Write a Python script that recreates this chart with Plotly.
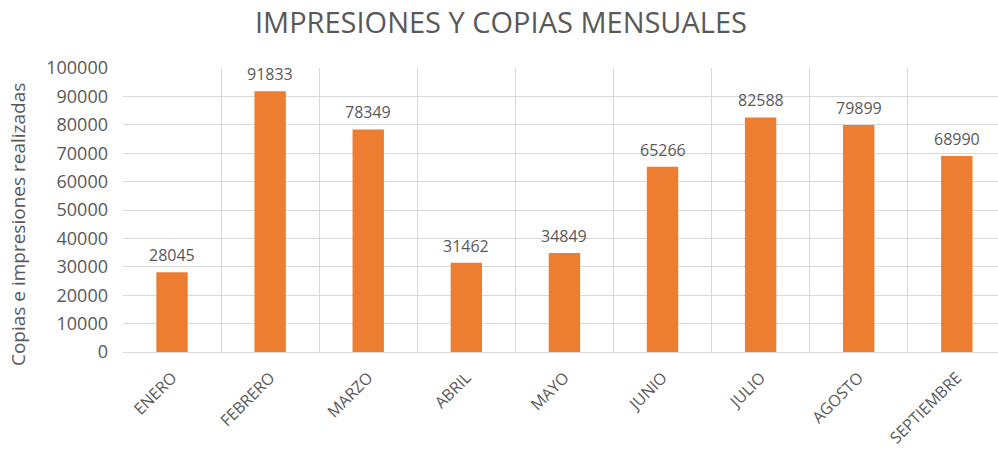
import plotly.graph_objects as go

meses = ["ENERO", "FEBRERO", "MARZO", "ABRIL", "MAYO", "JUNIO", "JULIO", "AGOSTO", "SEPTIEMBRE"]
copias = [28045, 91833, 78349, 31462, 34849, 65266, 82588, 79899, 68990]
y_ticks = list(range(0, 100001, 10000))

gris = "#595959"
fuente = "Open Sans"

fig = go.Figure()
fig.add_trace(go.Bar(
    x=meses, y=copias,
    marker=dict(color="#ED7D31", line=dict(width=0)),
    width=0.32,
))

# etiquetas de valor encima de cada barra
for mes, v in zip(meses, copias):
    fig.add_annotation(
        x=mes, y=v, text=str(v), showarrow=False,
        xanchor="center", yanchor="middle", yshift=17,
        font=dict(family=fuente, size=16, color=gris),
    )

fig.update_layout(
    width=998, height=451,
    margin=dict(l=123, r=0, t=68, b=99),
    paper_bgcolor="white", plot_bgcolor="white",
    showlegend=False,
    title=dict(text="IMPRESIONES Y COPIAS MENSUALES", x=0.502, xanchor="center",
               y=0.949, yanchor="middle",
               font=dict(family=fuente, size=29, color=gris)),
    font=dict(family=fuente, color=gris),
)

# el area de dibujo del original se corta por la derecha
fig.update_xaxes(
    type="category", range=[-0.5, 8.42], automargin=False,
    tickson="boundaries", ticks="",
    showgrid=True, gridcolor="#D9D9D9", gridwidth=1,
    showline=True, linecolor="#D9D9D9",
    ticklabelstandoff=9,
    tickangle=-45, tickfont=dict(family=fuente, size=16, color=gris),
)

fig.update_yaxes(
    range=[0, 100000], tickvals=y_ticks, ticktext=[str(v) for v in y_ticks],
    automargin=False,
    showgrid=True, gridcolor="#D9D9D9", gridwidth=1, zeroline=False,
    ticklabelstandoff=14,
    tickfont=dict(family=fuente, size=18, color=gris),
)

fig.add_annotation(
    text="Copias e impresiones realizadas", textangle=-90,
    xref="paper", yref="paper", x=-0.12, y=0.447,
    xanchor="center", yanchor="middle", showarrow=False,
    font=dict(family=fuente, size=19, color=gris),
)

fig.write_html("out.html", config={"displayModeBar": False},
               post_script="document.body.style.margin = '0px';")
